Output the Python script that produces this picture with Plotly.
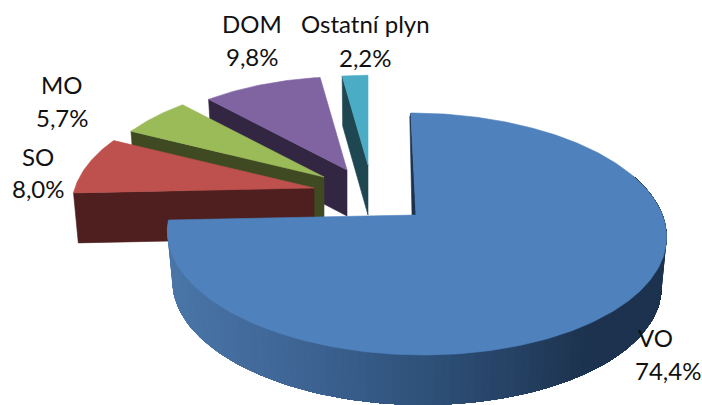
import numpy as np
import plotly.graph_objects as go

# Data
categories = ['VO', 'SO', 'MO', 'DOM', 'Ostatní plyn']
shares = [74.4, 8.0, 5.7, 9.8, 2.2]

# Look of each slice, same order as categories
top_colors = ['#4F81BD', '#BE504D', '#9BBB59', '#8064A2', '#4BACC6']
side_colors = ['#1C334F', '#4E1F1E', '#3F4A22', '#322643', '#1E4752']
apex_x = [416, 314, 324, 347, 368]
apex_y = [215, 188, 177, 170, 165]
scales = [1.0, 0.97, 0.935, 0.915, 0.88]
skews = [6, 0, 0, 0, 0]
depths = [50, 50, 46, 46, 50]

# Label positions in pixels (centre of each text line)
label_x = [668, 38, 62, 252, 365]
name_y = [337, 156, 84, 23, 23]
value_y = [370, 188, 117, 56, 57]
name_x_shift = [-13, 0, 0, 0, 0]

# Perspective of the pie disc
K = 246.5
H = 118
P = 0.157
LOW = 0.98  # lower rim is a bit narrower


def project(theta, i):
    u = np.sin(theta)
    v = np.cos(theta)
    w = 1 + P * v
    x = apex_x[i] + (K * scales[i] * u - skews[i] * v) / w
    y = apex_y[i] - H * scales[i] * v / w
    return x, y


def polygon(xs, ys, color, width=0.6):
    return go.Scatter(
        x=xs, y=ys, mode='lines', fill='toself', fillcolor=color,
        line=dict(color=color, width=width), hoverinfo='skip', showlegend=False
    )


# Slice angles, clockwise from the top
edges = np.cumsum([0] + shares) / sum(shares) * 2 * np.pi

traces = []

# Back slices first, so the nearer ones cover them
for i in [4, 3, 2, 1]:
    a0, a1 = edges[i], edges[i + 1]
    ox, oy = project(a0, i)
    d = depths[i]
    lx = apex_x[i] + (ox - apex_x[i]) * LOW
    traces.append(polygon([ox, apex_x[i], apex_x[i], lx, ox],
                          [oy, apex_y[i], apex_y[i] + d, oy + d, oy],
                          side_colors[i]))
    t = np.linspace(a0, a1, 40)
    xs, ys = project(t, i)
    traces.append(polygon([apex_x[i], *xs, apex_x[i]],
                          [apex_y[i], *ys, apex_y[i]], top_colors[i]))

# Thin cut face of the big slice at 12 o'clock
ox, oy = project(0.0, 0)
traces.append(polygon([ox, apex_x[0], apex_x[0] - 4, ox - 1, ox],
                      [oy, apex_y[0], apex_y[0], oy + 4, oy], side_colors[0]))

# Outer wall of the big slice, shaded from left to right.
# Each band runs to the right end of the wall, the next band paints over it,
# that way no seams show between the bands.
shade_x = [170, 300, 430, 530, 590, 670]
shade_r = [74, 62, 46, 36, 28, 28]
shade_g = [118, 100, 80, 62, 50, 50]
shade_b = [168, 148, 120, 95, 78, 78]
wall = np.linspace(edges[1], np.radians(70), 120)
wx, wy = project(wall, 0)
low_x = apex_x[0] + (wx - apex_x[0]) * LOW
low_y = wy + depths[0]
for j in range(len(wall) - 1):
    color = 'rgb(%d,%d,%d)' % (np.interp(wx[j], shade_x, shade_r),
                               np.interp(wx[j], shade_x, shade_g),
                               np.interp(wx[j], shade_x, shade_b))
    traces.append(polygon([*wx[j:], *low_x[j:][::-1], wx[j]],
                          [*wy[j:], *low_y[j:][::-1], wy[j]], color, width=0))

# Top face of the big slice
t = np.linspace(edges[0], edges[1], 300)
xs, ys = project(t, 0)
traces.append(polygon([apex_x[0], *xs, apex_x[0]],
                      [apex_y[0], *ys, apex_y[0]], top_colors[0]))

fig = go.Figure(traces)

for i, name in enumerate(categories):
    value = f'{shares[i]:.1f}'.replace('.', ',') + '%'
    fig.add_annotation(x=label_x[i] + name_x_shift[i], y=name_y[i], text=name, showarrow=False)
    fig.add_annotation(x=label_x[i], y=value_y[i], text=value, showarrow=False)

fig.update_layout(
    width=702, height=405,
    margin=dict(l=0, r=0, t=0, b=0),
    paper_bgcolor='white', plot_bgcolor='white',
    showlegend=False,
    font=dict(family='Lato', size=24, color='#111111'),
    xaxis=dict(range=[0, 702], visible=False, fixedrange=True),
    yaxis=dict(range=[405, 0], visible=False, fixedrange=True),
)

fig.write_html('out.html', config={'displayModeBar': False},
               post_script="document.body.style.margin='0';")
